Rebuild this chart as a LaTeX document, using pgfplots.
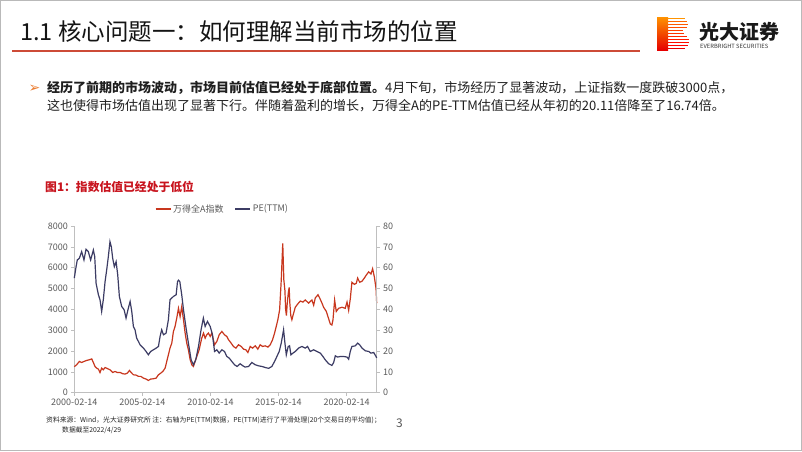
\documentclass[border=0pt]{standalone}
\usepackage{fontspec}
\setmainfont{Noto Sans CJK SC}
\newfontfamily\dejavu{DejaVu Sans}
\usepackage{pgfplots}
\pgfplotsset{compat=1.18}
\usepackage{pgfplotstable}
\definecolor{idxred}{RGB}{200,55,30}
\definecolor{penavy}{RGB}{60,60,100}
\definecolor{axgray}{RGB}{191,191,191}
\definecolor{lblgray}{RGB}{89,89,89}
\definecolor{rulered}{RGB}{205,75,55}
\definecolor{figred}{RGB}{200,20,30}
\definecolor{bulletorange}{RGB}{235,125,50}

\pgfplotstableread{
x y
2000.12 1250
2000.29 1340
2000.49 1500
2000.66 1450
2000.83 1500
2001.03 1550
2001.22 1580
2001.40 1620
2001.52 1450
2001.64 1260
2001.76 1180
2001.89 1130
2002.01 970
2002.13 1180
2002.25 1100
2002.38 1210
2002.55 1160
2002.74 1100
2002.94 970
2003.11 1020
2003.28 970
2003.48 975
2003.68 910
2003.85 895
2004.02 940
2004.17 1070
2004.29 975
2004.46 860
2004.66 845
2004.83 785
2005.00 785
2005.20 700
2005.39 655
2005.56 590
2005.73 655
2005.93 670
2006.13 700
2006.30 860
2006.47 940
2006.62 1020
2006.79 1180
2006.91 1500
2007.03 1820
2007.15 2140
2007.28 2380
2007.40 2940
2007.52 3180
2007.65 3600
2007.77 4050
2007.89 3650
2008.01 4130
2008.14 3500
2008.26 2860
2008.38 2380
2008.50 2060
2008.63 1580
2008.75 1340
2008.87 1260
2008.99 1500
2009.12 1740
2009.29 2060
2009.48 2620
2009.61 2860
2009.73 2620
2009.85 2780
2009.97 2860
2010.10 2700
2010.22 2860
2010.42 2300
2010.59 2460
2010.76 2780
2010.96 2940
2011.15 2780
2011.32 2700
2011.45 2540
2011.64 2380
2011.81 2220
2011.99 2140
2012.18 2300
2012.38 2220
2012.55 2090
2012.72 2060
2012.87 1930
2013.04 2220
2013.21 2140
2013.41 2250
2013.60 2090
2013.77 2300
2013.95 2220
2014.14 2250
2014.34 2190
2014.51 2300
2014.68 2540
2014.83 2860
2014.95 3180
2015.07 3500
2015.20 3980
2015.32 5410
2015.43 7170
2015.51 5410
2015.59 4900
2015.64 4000
2015.70 3700
2015.76 4300
2015.84 4800
2015.90 5050
2015.95 4300
2016.02 3700
2016.10 3500
2016.20 3750
2016.35 4100
2016.52 4250
2016.72 4400
2016.91 4350
2017.08 4450
2017.33 4300
2017.57 4450
2017.70 4200
2017.82 4550
2018.02 4700
2018.14 4550
2018.31 4300
2018.43 4100
2018.63 3900
2018.80 3550
2018.92 3300
2019.04 3250
2019.12 3500
2019.24 4450
2019.36 3900
2019.53 4050
2019.78 4100
2020.02 4050
2020.15 4350
2020.27 3950
2020.39 4500
2020.51 5300
2020.69 5200
2020.83 5250
2020.93 5500
2021.08 5300
2021.25 5350
2021.42 5500
2021.57 5650
2021.74 5800
2021.91 5700
2022.03 5950
2022.16 5550
2022.28 5000
2022.33 4300
}\idxdata

\pgfplotstableread{
x y
2000.12 55
2000.25 60.5
2000.34 63.7
2000.49 64.5
2000.66 67.7
2000.83 63.7
2000.98 68.8
2001.15 67.7
2001.32 63.7
2001.52 68.5
2001.62 65.3
2001.72 52.5
2001.89 47
2002.01 44.6
2002.13 39
2002.25 44.6
2002.38 53.3
2002.50 59
2002.62 65.3
2002.74 72.5
2002.84 70
2002.94 64.5
2003.06 60.5
2003.19 62.9
2003.31 56.5
2003.43 46.2
2003.60 41.4
2003.78 39.8
2003.92 35.8
2004.09 40.6
2004.22 43.8
2004.34 39
2004.46 31.8
2004.58 30.2
2004.70 26.2
2004.83 24.6
2004.95 23
2005.20 21.4
2005.39 19.8
2005.56 18.2
2005.73 19.8
2005.93 20.6
2006.13 21.4
2006.30 22.2
2006.42 27
2006.54 30.2
2006.67 27.8
2006.86 28.6
2007.03 35
2007.15 44.6
2007.40 46.2
2007.60 47
2007.70 53.3
2007.77 54
2007.87 53.3
2008.01 47
2008.14 39.8
2008.31 31.8
2008.50 23.8
2008.70 15.8
2008.87 13.4
2009.04 15.8
2009.24 22.2
2009.43 30.2
2009.60 35.8
2009.73 31.8
2009.90 34.2
2010.10 31.8
2010.27 27.8
2010.42 19.8
2010.59 20.6
2010.76 19
2010.96 20.6
2011.15 19.8
2011.32 17.4
2011.50 16.6
2011.69 15
2011.89 13.4
2012.08 12.6
2012.30 13.9
2012.50 12.9
2012.67 12.3
2012.92 12.6
2013.16 14.5
2013.41 13.4
2013.65 12.9
2013.90 12.6
2014.14 12.1
2014.39 11.7
2014.63 12.6
2014.83 15
2015.00 17.4
2015.17 19.8
2015.32 23.8
2015.49 30.2
2015.59 23.8
2015.69 18.2
2015.83 22.2
2015.93 22.5
2016.03 18.2
2016.18 19
2016.35 19.8
2016.59 21.4
2016.84 22.2
2017.08 21.4
2017.25 22.2
2017.45 19.8
2017.70 20.6
2017.94 19.8
2018.19 19
2018.38 17.4
2018.55 15.8
2018.80 13.9
2019.04 13.1
2019.17 14.5
2019.29 17.7
2019.46 17.1
2019.66 17.4
2019.90 17.4
2020.15 17.1
2020.27 16.1
2020.39 19.8
2020.51 22.2
2020.76 22.5
2020.93 23.8
2021.08 23
2021.25 21.4
2021.50 20.1
2021.74 19.8
2021.91 19
2022.11 19.3
2022.28 17.4
2022.33 16.7
}\pedata

\pgfplotsset{
  slideaxis/.style={
    at={(74.3pt,-392.7pt)}, anchor=south west,
    scale only axis, width=302.4pt, height=166.7pt,
    xmin=2000.12, xmax=2022.33,
    axis line style={axgray, line width=0.6pt},
    tick style={axgray, line width=0.6pt},
    major tick length=3pt,
    tick align=outside,
    ticklabel style={font=\fontsize{9}{10}\selectfont, text=lblgray},
    /pgf/number format/assume math mode=true,
    /pgf/number format/1000 sep={},
    clip=false,
  }
}

\begin{document}
\begin{tikzpicture}
\path[use as bounding box] (0,0) rectangle (802pt,-451pt);
\fill[white] (0,0) rectangle (802pt,-451pt);
\draw[gray!55, line width=1pt] (0.5pt,-0.5pt) rectangle (801.5pt,-450.5pt);

% Title
\node[anchor=base west, inner sep=0, font=\fontsize{23.5}{26}\selectfont, text=black!92] at (20pt,-40pt) {1.1 核心问题一：如何理解当前市场的位置};
\draw[rulered, line width=2pt] (12pt,-51pt) -- (640pt,-51pt);

% Logo
\shade[top color=orange!85!yellow, bottom color=red!90!black] (657pt,-17pt) rectangle (668pt,-50pt);
\foreach \yy/\xe/\cc in {17.5/685/orange!85!yellow, 20.5/687/orange!80!red, 23.5/688/orange!70!red, 26.5/687/orange!60!red, 29.5/683/orange!50!red, 32.5/684/orange!40!red, 35.5/687/orange!30!red, 38.5/689/red!80!orange, 41.5/689/red!90!orange, 44.5/688/red, 47.5/685/red!90!black}{
  \fill[\cc] (668pt,-\yy pt) rectangle (\xe pt,-\yy pt-1.9pt);
}
\node[anchor=base west, inner sep=0, font=\fontsize{20}{22}\selectfont\bfseries, text=black!90] at (699pt,-39.5pt) {光大证券};
\node[anchor=base west, inner sep=0, font=\fontsize{5.8}{6}\selectfont, text=black!80] at (700pt,-48.5pt) {EVERBRIGHT SECURITIES};

% Bullet text
\node[anchor=base west, inner sep=0, font=\fontsize{14}{15}\dejavu, text=bulletorange] at (28.5pt,-92.5pt) {➢};
\node[anchor=base west, inner sep=0, font=\fontsize{13}{18}\selectfont, text=black!88] at (47pt,-92pt) {\textbf{经历了前期的市场波动，市场目前估值已经处于底部位置。}4月下旬，市场经历了显著波动，上证指数一度跌破3000点，};
\node[anchor=base west, inner sep=0, font=\fontsize{13}{18}\selectfont, text=black!88] at (47pt,-110pt) {这也使得市场估值出现了显著下行。伴随着盈利的增长，万得全A的PE-TTM估值已经从年初的20.11倍降至了16.74倍。};

% Figure title
\node[anchor=base west, inner sep=0, font=\fontsize{11.8}{13}\selectfont\bfseries, text=figred] at (45pt,-191.5pt) {图1：指数估值已经处于低位};

% Left axis: index
\begin{axis}[slideaxis,
  ymin=0, ymax=8000,
  axis x line*=bottom, axis y line*=left,
  ytick={0,1000,...,8000},
  xtick={2000.12,2005.12,2010.12,2015.12,2020.12},
  xticklabels={2000-02-14,2005-02-14,2010-02-14,2015-02-14,2020-02-14},
]
\addplot[color=idxred, line width=1.2pt] table[x=x,y=y] {\idxdata};
\end{axis}

% Right axis: PE
\begin{axis}[slideaxis,
  ymin=0, ymax=80,
  axis x line=none, axis y line*=right,
  ytick={0,10,...,80},
  legend style={at={(0.49,1)}, anchor=center, yshift=17pt, draw=none, fill=none,
    legend columns=2, font=\fontsize{9}{10}\selectfont, text=lblgray,
    /tikz/every even column/.append style={column sep=9pt}},
  legend image code/.code={\draw[#1] (0pt,0pt) -- (15pt,0pt);},
]
\addlegendimage{color=idxred, line width=1.2pt}
\addlegendentry{万得全A指数}
\addplot[color=penavy, line width=1.2pt] table[x=x,y=y] {\pedata};
\addlegendentry{PE(TTM)}
\end{axis}

% Footnote
\node[anchor=base west, inner sep=0, font=\fontsize{6.8}{8}\selectfont, text=black!85] at (46pt,-422.5pt) {资料来源：Wind，光大证券研究所 注：右轴为PE(TTM)数据，PE(TTM)进行了平滑处理(20个交易日的平均值)；};
\node[anchor=base west, inner sep=0, font=\fontsize{6.8}{8}\selectfont, text=black!85] at (62pt,-432.5pt) {数据截至2022/4/29};
\node[anchor=base west, inner sep=0, font=\fontsize{12}{13}\selectfont, text=lblgray] at (396pt,-427.5pt) {3};
\end{tikzpicture}
\end{document}
